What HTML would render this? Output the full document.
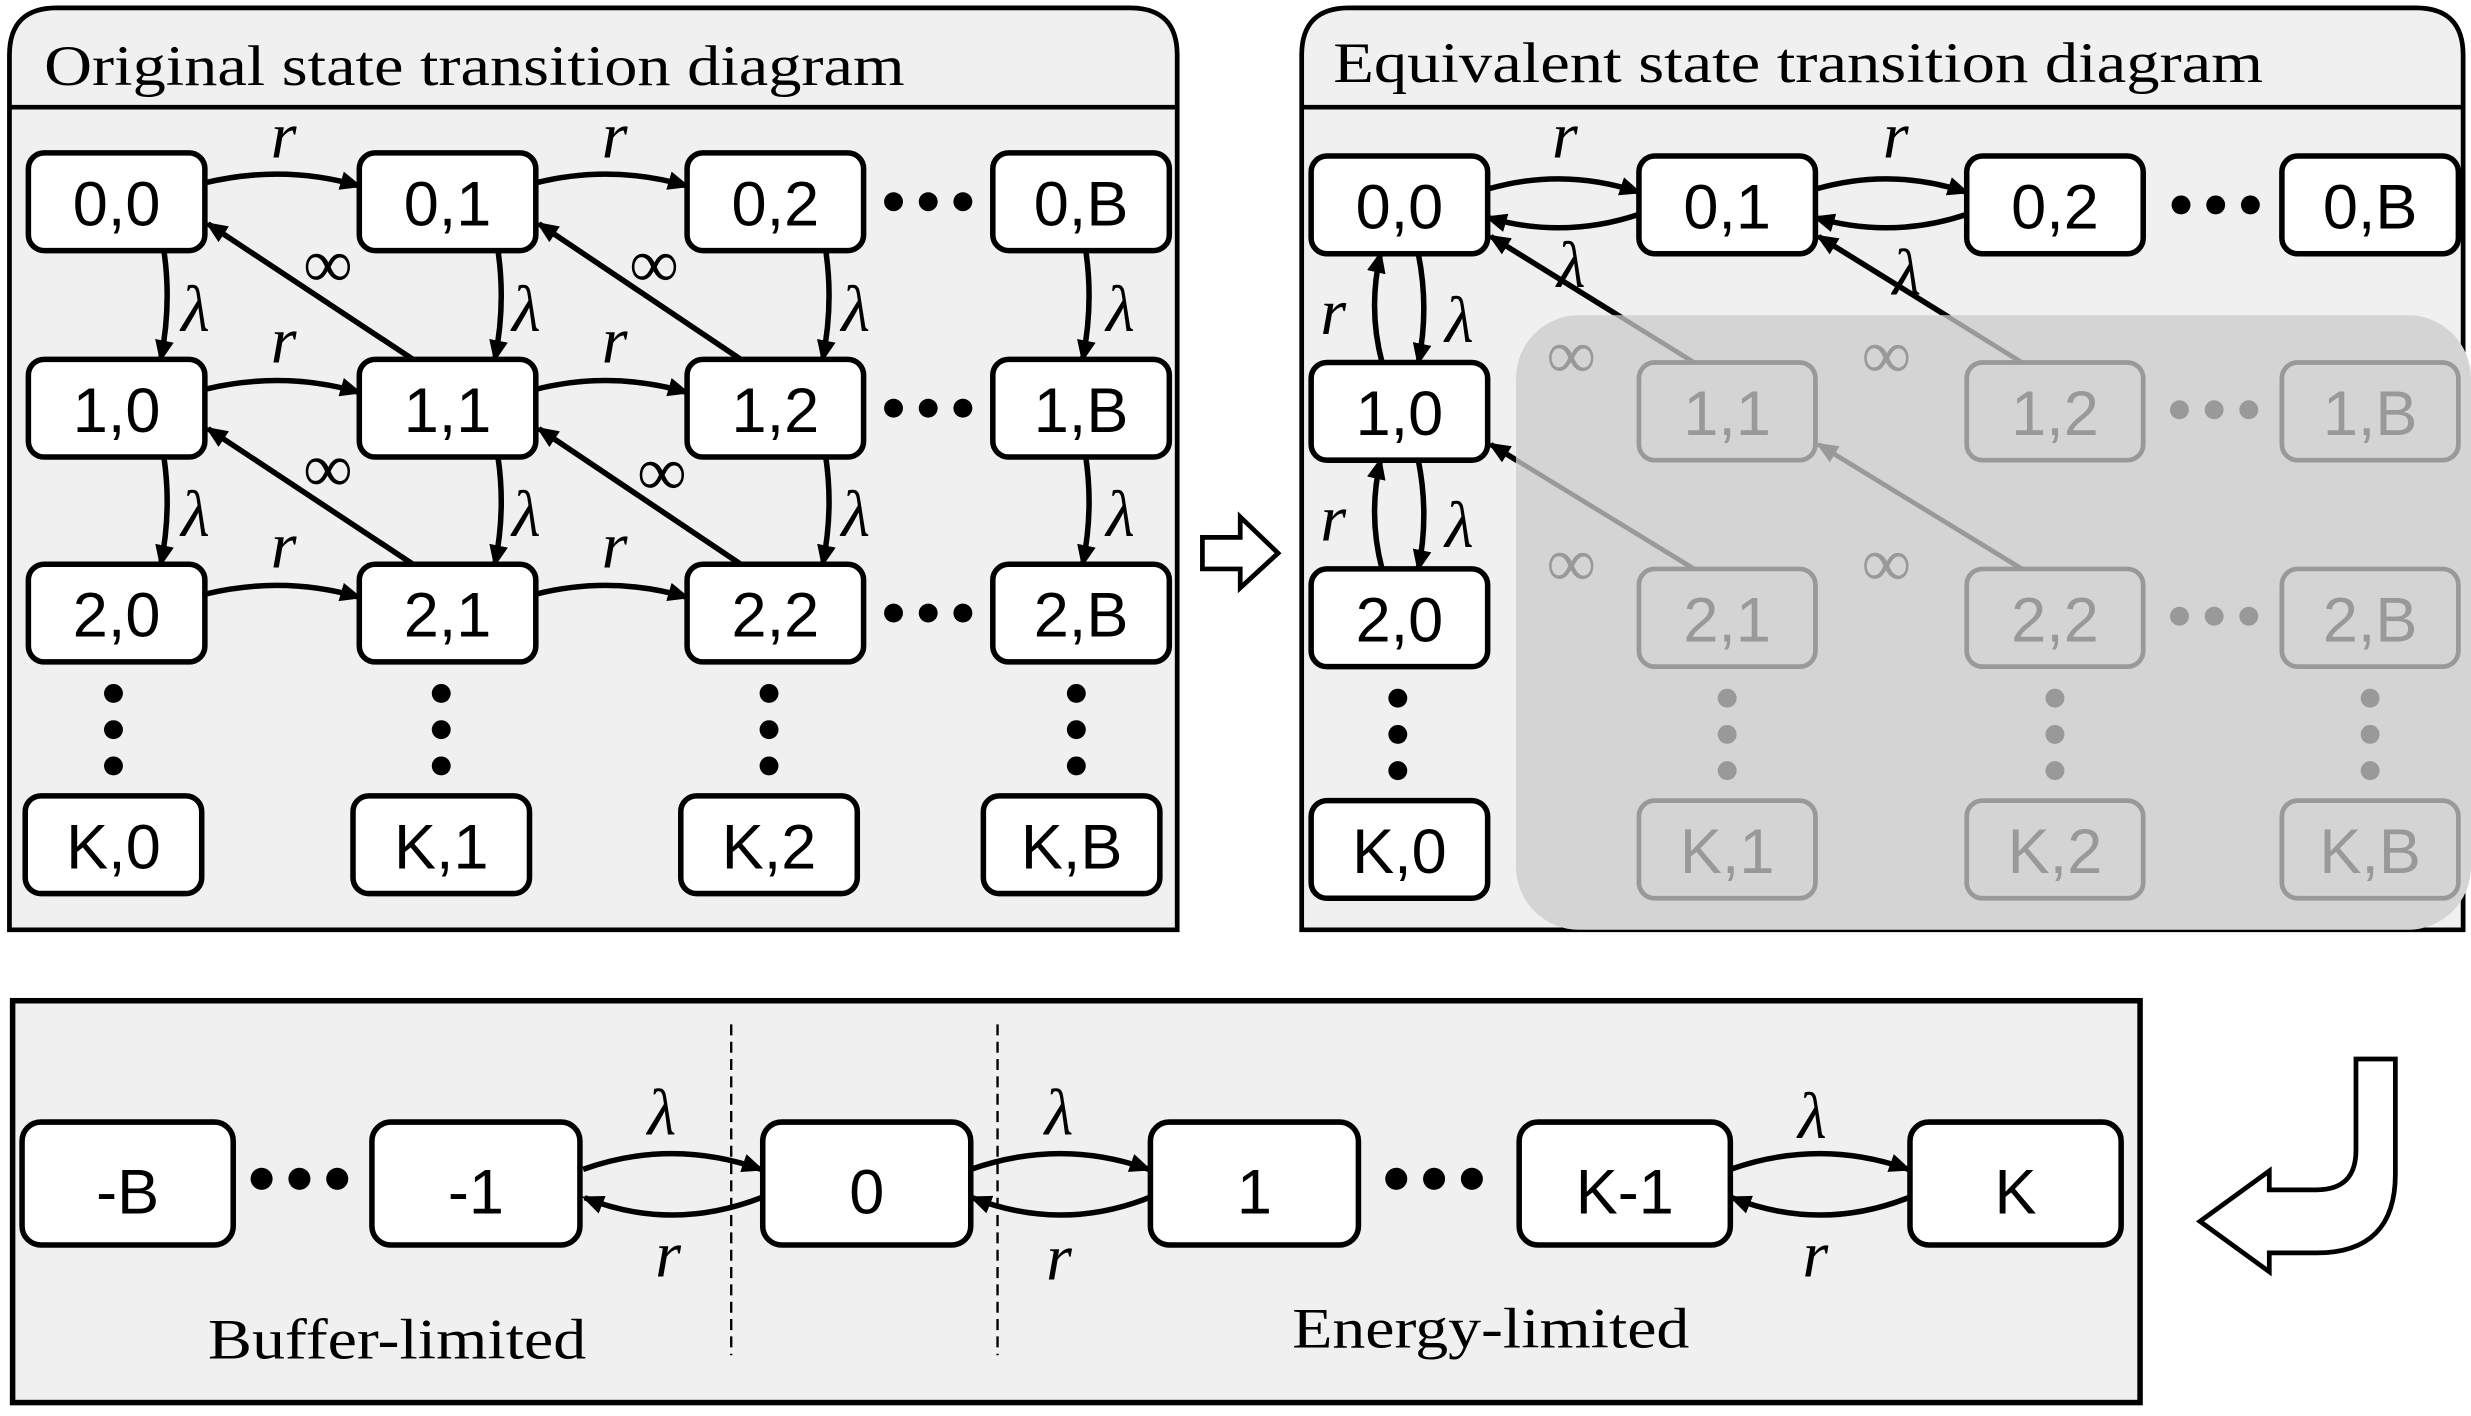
<!DOCTYPE html>
<html><head><meta charset="utf-8"><style>
html,body{margin:0;padding:0;background:#fff;}
svg{display:block;}
.n{fill:#fff;stroke:#000;stroke-width:3.5;}
.g{fill:none;stroke:#999;stroke-width:3;}
.t{font-family:"Liberation Sans",sans-serif;font-size:40px;text-anchor:middle;}
.tt{font-family:"Liberation Serif",serif;font-size:36px;}
.gr{font-family:"Liberation Serif",serif;font-style:italic;font-size:42px;text-anchor:middle;}
.inf{font-family:"Liberation Serif",serif;font-size:44px;text-anchor:middle;}
.a{fill:none;stroke:#000;stroke-width:3.5;marker-end:url(#ah);}
.ag{fill:none;stroke:#999;stroke-width:3;marker-end:url(#ahg);}
</style></head><body>
<svg width="2471" height="1416" viewBox="0 0 1568 898.5" xmlns="http://www.w3.org/2000/svg">
<defs>
<marker id="ah" markerWidth="14" markerHeight="12" refX="12" refY="6" orient="auto" markerUnits="userSpaceOnUse"><path d="M0,0 L14,6 L0,12 Z" fill="#000"/></marker>
<marker id="ahg" markerWidth="14" markerHeight="12" refX="12" refY="6" orient="auto" markerUnits="userSpaceOnUse"><path d="M0,0 L14,6 L0,12 Z" fill="#999"/></marker>
<clipPath id="ov"><rect x="962" y="200" width="606" height="390" rx="40"/></clipPath>
</defs>

<!-- Panel 1 -->
<path d="M6,590 L6,35 Q6,5 36,5 L717,5 Q747,5 747,35 L747,590 Z" fill="#f0f0f0" stroke="#000" stroke-width="3"/>
<line x1="6" y1="68" x2="747" y2="68" stroke="#000" stroke-width="3"/>
<text class="tt" x="28" y="54" textLength="546" lengthAdjust="spacingAndGlyphs">Original state transition diagram</text>

<g>
<path class="a" d="M130,116 Q180,104 228,118"/>
<path class="a" d="M340,116 Q388,104 436,118"/>
<path class="a" d="M130,247 Q180,235 228,249"/>
<path class="a" d="M340,247 Q388,235 436,249"/>
<path class="a" d="M130,377 Q180,365 228,379"/>
<path class="a" d="M340,377 Q388,365 436,379"/>
<path class="a" d="M104,159 Q109,193 102,228"/>
<path class="a" d="M104,290 Q109,324 102,358"/>
<path class="a" d="M316,159 Q321,193 314,228"/>
<path class="a" d="M316,290 Q321,324 314,358"/>
<path class="a" d="M524,159 Q529,193 522,228"/>
<path class="a" d="M524,290 Q529,324 522,358"/>
<path class="a" d="M689,159 Q694,193 687,228"/>
<path class="a" d="M689,290 Q694,324 687,358"/>
<path class="a" d="M262,228 L132,142"/>
<path class="a" d="M262,358 L132,272"/>
<path class="a" d="M470,228 L342,142"/>
<path class="a" d="M470,358 L342,272"/>
</g>
<g class="gr">
<text x="180" y="100">r</text><text x="390" y="100">r</text>
<text x="180" y="230">r</text><text x="390" y="230">r</text>
<text x="180" y="360">r</text><text x="390" y="360">r</text>
<text x="124" y="210">λ</text><text x="334" y="210">λ</text><text x="543" y="210">λ</text><text x="711" y="210">λ</text>
<text x="124" y="340">λ</text><text x="334" y="340">λ</text><text x="543" y="340">λ</text><text x="711" y="340">λ</text>
</g>
<g class="inf">
<text x="208" y="182">∞</text><text x="415" y="182">∞</text>
<text x="208" y="312">∞</text><text x="420" y="314">∞</text>
</g>
<g>
<rect class="n" x="18" y="97" width="112" height="62" rx="10"/><text class="t" x="74" y="143">0,0</text>
<rect class="n" x="228" y="97" width="112" height="62" rx="10"/><text class="t" x="284" y="143">0,1</text>
<rect class="n" x="436" y="97" width="112" height="62" rx="10"/><text class="t" x="492" y="143">0,2</text>
<rect class="n" x="630" y="97" width="112" height="62" rx="10"/><text class="t" x="686" y="143">0,B</text>
<rect class="n" x="18" y="228" width="112" height="62" rx="10"/><text class="t" x="74" y="274">1,0</text>
<rect class="n" x="228" y="228" width="112" height="62" rx="10"/><text class="t" x="284" y="274">1,1</text>
<rect class="n" x="436" y="228" width="112" height="62" rx="10"/><text class="t" x="492" y="274">1,2</text>
<rect class="n" x="630" y="228" width="112" height="62" rx="10"/><text class="t" x="686" y="274">1,B</text>
<rect class="n" x="18" y="358" width="112" height="62" rx="10"/><text class="t" x="74" y="404">2,0</text>
<rect class="n" x="228" y="358" width="112" height="62" rx="10"/><text class="t" x="284" y="404">2,1</text>
<rect class="n" x="436" y="358" width="112" height="62" rx="10"/><text class="t" x="492" y="404">2,2</text>
<rect class="n" x="630" y="358" width="112" height="62" rx="10"/><text class="t" x="686" y="404">2,B</text>
<rect class="n" x="16" y="505" width="112" height="62" rx="10"/><text class="t" x="72" y="551">K,0</text>
<rect class="n" x="224" y="505" width="112" height="62" rx="10"/><text class="t" x="280" y="551">K,1</text>
<rect class="n" x="432" y="505" width="112" height="62" rx="10"/><text class="t" x="488" y="551">K,2</text>
<rect class="n" x="624" y="505" width="112" height="62" rx="10"/><text class="t" x="680" y="551">K,B</text>
</g>
<g fill="#000">
<circle cx="567" cy="128" r="6"/><circle cx="589" cy="128" r="6"/><circle cx="611" cy="128" r="6"/>
<circle cx="567" cy="259" r="6"/><circle cx="589" cy="259" r="6"/><circle cx="611" cy="259" r="6"/>
<circle cx="567" cy="389" r="6"/><circle cx="589" cy="389" r="6"/><circle cx="611" cy="389" r="6"/>
<circle cx="72" cy="440" r="6"/><circle cx="72" cy="463" r="6"/><circle cx="72" cy="486" r="6"/>
<circle cx="280" cy="440" r="6"/><circle cx="280" cy="463" r="6"/><circle cx="280" cy="486" r="6"/>
<circle cx="488" cy="440" r="6"/><circle cx="488" cy="463" r="6"/><circle cx="488" cy="486" r="6"/>
<circle cx="683" cy="440" r="6"/><circle cx="683" cy="463" r="6"/><circle cx="683" cy="486" r="6"/>
</g>

<polygon points="763,341 787,341 787,328 811,351 787,373 787,361 763,361" fill="#fff" stroke="#000" stroke-width="3"/>

<!-- Panel 2 -->
<path d="M826,590 L826,35 Q826,5 856,5 L1533,5 Q1563,5 1563,35 L1563,590 Z" fill="#f0f0f0" stroke="#000" stroke-width="3"/>
<line x1="826" y1="68" x2="1563" y2="68" stroke="#000" stroke-width="3"/>
<text class="tt" x="846" y="52" textLength="590" lengthAdjust="spacingAndGlyphs">Equivalent state transition diagram</text>

<g>
<path class="a" d="M944,120 Q992,106 1040,122"/>
<path class="a" d="M1040,136 Q992,152 944,138"/>
<path class="a" d="M1152,120 Q1200,106 1248,122"/>
<path class="a" d="M1248,136 Q1200,152 1152,138"/>
<path class="a" d="M877,230 Q868,196 876,161"/>
<path class="a" d="M900,161 Q907,196 900,230"/>
<path class="a" d="M877,361 Q868,327 876,292"/>
<path class="a" d="M900,292 Q907,327 900,361"/>
<path class="a" d="M1075,230 L946,150"/>
<path class="a" d="M1283,230 L1154,150"/>
<path class="a" d="M1075,361 L946,282"/>
</g>
<g class="gr">
<text x="993" y="100">r</text><text x="1203" y="100">r</text>
<text x="997" y="182">λ</text><text x="1210" y="187">λ</text>
<text x="846" y="212">r</text><text x="926" y="217">λ</text>
<text x="846" y="343">r</text><text x="926" y="347">λ</text>
</g>
<rect x="962" y="200" width="606" height="390" rx="40" fill="#d4d4d4"/>
<g clip-path="url(#ov)">
<path class="ag" d="M1075,230 L946,150"/>
<path class="ag" d="M1283,230 L1154,150"/>
<path class="ag" d="M1075,361 L946,282"/>
<path class="ag" d="M1283,361 L1154,282"/>
</g>
<g class="inf" fill="#999">
<text x="997" y="240">∞</text><text x="1197" y="240">∞</text>
<text x="997" y="372">∞</text><text x="1197" y="372">∞</text>
</g>
<g>
<rect class="n" x="832" y="99" width="112" height="62" rx="10"/><text class="t" x="888" y="145">0,0</text>
<rect class="n" x="1040" y="99" width="112" height="62" rx="10"/><text class="t" x="1096" y="145">0,1</text>
<rect class="n" x="1248" y="99" width="112" height="62" rx="10"/><text class="t" x="1304" y="145">0,2</text>
<rect class="n" x="1448" y="99" width="112" height="62" rx="10"/><text class="t" x="1504" y="145">0,B</text>
<rect class="n" x="832" y="230" width="112" height="62" rx="10"/><text class="t" x="888" y="276">1,0</text>
<rect class="n" x="832" y="361" width="112" height="62" rx="10"/><text class="t" x="888" y="407">2,0</text>
<rect class="n" x="832" y="508" width="112" height="62" rx="10"/><text class="t" x="888" y="554">K,0</text>
</g>
<g fill="#999">
<rect class="g" x="1040" y="230" width="112" height="62" rx="10"/><text class="t" x="1096" y="276">1,1</text>
<rect class="g" x="1248" y="230" width="112" height="62" rx="10"/><text class="t" x="1304" y="276">1,2</text>
<rect class="g" x="1448" y="230" width="112" height="62" rx="10"/><text class="t" x="1504" y="276">1,B</text>
<rect class="g" x="1040" y="361" width="112" height="62" rx="10"/><text class="t" x="1096" y="407">2,1</text>
<rect class="g" x="1248" y="361" width="112" height="62" rx="10"/><text class="t" x="1304" y="407">2,2</text>
<rect class="g" x="1448" y="361" width="112" height="62" rx="10"/><text class="t" x="1504" y="407">2,B</text>
<rect class="g" x="1040" y="508" width="112" height="62" rx="10"/><text class="t" x="1096" y="554">K,1</text>
<rect class="g" x="1248" y="508" width="112" height="62" rx="10"/><text class="t" x="1304" y="554">K,2</text>
<rect class="g" x="1448" y="508" width="112" height="62" rx="10"/><text class="t" x="1504" y="554">K,B</text>
<circle cx="1383" cy="260" r="6"/><circle cx="1405" cy="260" r="6"/><circle cx="1427" cy="260" r="6"/>
<circle cx="1383" cy="391" r="6"/><circle cx="1405" cy="391" r="6"/><circle cx="1427" cy="391" r="6"/>
<circle cx="1096" cy="443" r="6"/><circle cx="1096" cy="466" r="6"/><circle cx="1096" cy="489" r="6"/>
<circle cx="1304" cy="443" r="6"/><circle cx="1304" cy="466" r="6"/><circle cx="1304" cy="489" r="6"/>
<circle cx="1504" cy="443" r="6"/><circle cx="1504" cy="466" r="6"/><circle cx="1504" cy="489" r="6"/>
</g>
<g fill="#000">
<circle cx="1384" cy="130" r="6"/><circle cx="1406" cy="130" r="6"/><circle cx="1428" cy="130" r="6"/>
<circle cx="887" cy="443" r="6"/><circle cx="887" cy="466" r="6"/><circle cx="887" cy="489" r="6"/>
</g>

<path d="M1495,672 L1520,672 L1520,745 Q1520,795 1470,795 L1440,795 L1440,807 L1396,775 L1440,743 L1440,755 L1470,755 Q1495,755 1495,730 Z" fill="#fff" stroke="#000" stroke-width="3"/>

<!-- Panel 3 -->
<rect x="8" y="635" width="1350" height="255" fill="#f0f0f0" stroke="#000" stroke-width="3.5"/>
<line x1="464" y1="650" x2="464" y2="860" stroke="#000" stroke-width="1.5" stroke-dasharray="7,4"/>
<line x1="633" y1="650" x2="633" y2="860" stroke="#000" stroke-width="1.5" stroke-dasharray="7,4"/>
<path class="a" d="M370,742 Q426,722 483,742"/>
<path class="a" d="M483,760 Q426,782 371,760"/>
<path class="a" d="M616,742 Q673,722 729,742"/>
<path class="a" d="M729,760 Q673,782 617,760"/>
<path class="a" d="M1098,742 Q1155,722 1211,742"/>
<path class="a" d="M1211,760 Q1155,782 1099,760"/>
<g class="gr" font-size="46">
<text x="420" y="720">λ</text><text x="424" y="810">r</text>
<text x="672" y="720">λ</text><text x="672" y="812">r</text>
<text x="1150" y="722">λ</text><text x="1152" y="810">r</text>
</g>
<g>
<rect class="n" x="14" y="712" width="134" height="78" rx="12"/><text class="t" x="81" y="770" font-size="52">-B</text>
<rect class="n" x="236" y="712" width="132" height="78" rx="12"/><text class="t" x="302" y="770" font-size="52">-1</text>
<rect class="n" x="484" y="712" width="132" height="78" rx="12"/><text class="t" x="550" y="770" font-size="52">0</text>
<rect class="n" x="730" y="712" width="132" height="78" rx="12"/><text class="t" x="796" y="770" font-size="52">1</text>
<rect class="n" x="964" y="712" width="134" height="78" rx="12"/><text class="t" x="1031" y="770" font-size="52">K-1</text>
<rect class="n" x="1212" y="712" width="134" height="78" rx="12"/><text class="t" x="1279" y="770" font-size="52">K</text>
</g>
<g fill="#000">
<circle cx="166" cy="748" r="7"/><circle cx="190" cy="748" r="7"/><circle cx="214" cy="748" r="7"/>
<circle cx="886" cy="748" r="7"/><circle cx="910" cy="748" r="7"/><circle cx="934" cy="748" r="7"/>
</g>
<text class="tt" x="132" y="862" textLength="240" lengthAdjust="spacingAndGlyphs">Buffer-limited</text>
<text class="tt" x="820" y="855" textLength="252" lengthAdjust="spacingAndGlyphs">Energy-limited</text>
</svg>
</body></html>
